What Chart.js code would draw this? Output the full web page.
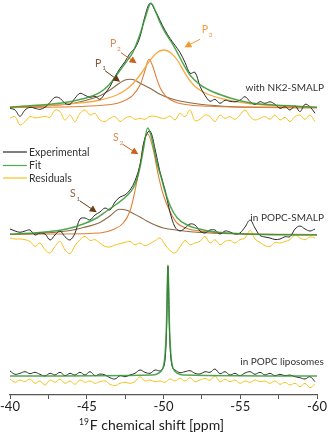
<!DOCTYPE html>
<html>
<head>
<meta charset="utf-8">
<script src="https://cdn.jsdelivr.net/npm/chart.js@4.4.1/dist/chart.umd.min.js"></script>
<style>
html,body{margin:0;padding:0;background:#fff;}
canvas{display:block;}
</style>
</head>
<body>
<canvas id="c" width="328" height="435"></canvas>
<script>
// ---------- DATA (chemical shift in ppm, intensities in arbitrary units) ----------
const ppmGrid = [-40.00,-40.33,-40.65,-40.98,-41.30,-41.63,-41.95,-42.28,-42.61,-42.93,-43.26,-43.58,-43.91,-44.23,-44.56,-44.89,-45.21,-45.54,-45.86,-46.19,-46.51,-46.84,-47.17,-47.49,-47.82,-48.14,-48.47,-48.79,-49.12,-49.45,-49.77,-50.10,-50.42,-50.75,-51.07,-51.40,-51.73,-52.05,-52.38,-52.70,-53.03,-53.35,-53.68,-54.01,-54.33,-54.66,-54.98,-55.31,-55.64,-55.96,-56.29,-56.61,-56.94,-57.26,-57.59,-57.92,-58.24,-58.57,-58.89,-59.22,-59.54,-59.87];

// with NK2-SMALP
const nk2Exp = [0,-1.7,-8,-1.7,1,0,-1,1,6,11,10,5,4,10,15,13,11,12,9,15,21.6,31.6,40,46.6,55,60,71.6,92,105,98,88,78,70,63,56,46,35,36,22,13,7,9,5,8,7,6.5,8,11.6,6.6,4,6.6,5,6.5,4,0,1.6,-1.7,2.3,-3.3,4,1.6,-5];
const nk2Res = [-1,0.7,-7.7,-4.3,0.7,-0.5,0,1,0,7.3,5.7,-2.7,2.3,-4.3,4,7.3,2.3,4,-2.7,-4.3,-1,0.7,-4.3,-1,0.7,-2,-1,-2,1,1,-0.5,-1,1.3,-2.7,4,0.7,7.3,-3.3,-2,2.3,0.7,-4.3,2.3,-1,0.7,-2,2.3,7.3,0.7,-2.7,-1,0.7,-2,2.3,-2.7,0,-4.3,0.7,2.3,-2,2.3,-4.3];
const nk2FitX = [-40,-41.3,-42.6,-43.9,-44.75,-45.4,-45.86,-46.3,-46.7,-47.17,-47.6,-48.0,-48.47,-48.8,-49.19,-49.5,-49.77,-50.03,-50.68,-51.34,-51.79,-52.44,-53.29,-54.4,-55.44,-56.55,-58.7,-60];
const nk2Fit  = [1,2.5,4,6.5,9.5,12.5,16,21,28,38,47,56,74,90,105,96,86,78,62,43,32,23,16,10,6,4,2,1];
const nk2P1X = [-40,-41.52,-43.69,-44.78,-45.86,-46.51,-47.17,-47.5,-47.82,-48.15,-48.47,-49.12,-49.77,-50.42,-51.07,-52.38,-54.53,-57,-60];
const nk2P1  = [0.7,1.6,4,7.3,12.6,18.3,25.6,28.3,29,28,25,20,14,10,7.3,4,1.6,0.9,0.6];
const nk2P2X = [-40,-44,-46,-47,-47.5,-48,-48.5,-48.8,-49.05,-49.3,-49.55,-49.8,-50.1,-50.4,-51,-52,-53,-55,-60];
const nk2P2  = [0.8,1.5,3,5,8,13,24,38,49,42,30,20,13,9,5,2.8,2,1.2,0.5];
const nk2P3X = [-40,-42.61,-44.78,-45.86,-46.95,-47.6,-48.03,-48.47,-49.06,-49.56,-50.03,-50.47,-50.9,-51.34,-51.77,-52.2,-52.85,-53.73,-55.46,-57.64,-60];
const nk2P3  = [1.3,3,5.6,8.3,13.3,19,25,33.3,46.6,55.6,58.3,55.6,48.3,36.6,26.6,20,14.3,10,5,2.3,1];

// in POPC-SMALP
const smaExp = [6,4,2.7,4,5,0,2,1,-5,0,4,-1.7,-5,1.7,16,17,15,20,23,27,25,33,38,40,45,54,70,97,104,86,63,45,23,8,4,7,11,10,4,2,5,5,1,4,3,1,2,8,15,7,-0.5,-2,-3,-4.5,-4,-1.7,-1.7,6,9,6,4,6];
const smaRes = [3.7,2.7,2.7,2,0.3,-4.7,-1.3,-8,-11.3,-4.7,0.3,-8,-12,-4,2,5.3,1.3,2,-1.3,-4.7,-5.3,-3.3,-2,-0.7,0.3,-3,-1.3,-4,-2,1,3.7,-3,-8.7,-11.3,-5.3,1.3,-3,-1.3,0.3,5.3,-1.3,2,-3,0.3,1.3,-1.3,2,3.7,11.3,2.7,-0.7,-4,-4.7,-0.7,-1.3,0.3,2,7,3.7,2,4.7,3.7];
const smaFitX = [-40,-41.52,-42.61,-43.69,-44.78,-45.65,-46.3,-46.95,-47.6,-48.03,-48.25,-48.47,-48.68,-48.97,-49.23,-49.56,-49.88,-50.03,-50.47,-50.9,-51.55,-52.2,-53.29,-54.38,-56.55,-60];
const smaFit  = [1,2,3.5,6,11,17,24,31,39,47,55,68,85,107,97,73,56,47,28,17,10,6.5,3.3,1.7,0.5,0];
const smaS1X = [-40,-41.52,-43.69,-44.78,-45.86,-46.51,-47.12,-47.56,-48.03,-48.47,-48.91,-49.45,-49.99,-51.07,-52.4,-54.5,-60];
const smaS1  = [0.5,1.5,4,7.5,12.5,19,25.7,25,21.5,18,14,10,7,4.5,2.5,1.2,0.3];
const smaS2X = [-40,-43,-45.86,-46.73,-47.38,-47.82,-48.14,-48.47,-48.68,-48.97,-49.34,-49.66,-49.99,-50.47,-50.88,-51.53,-52.64,-54.40,-60];
const smaS2  = [0.5,1,2,5.5,12,24,44,70,90,101,85,60,40,22,12,6.5,3.5,1.5,0.5];

// in POPC liposomes
const lipoExpX = [-40.00,-40.33,-40.65,-40.98,-41.30,-41.63,-41.95,-42.28,-42.61,-42.93,-43.26,-43.58,-43.91,-44.23,-44.56,-44.89,-45.21,-45.54,-45.86,-46.19,-46.51,-46.84,-47.17,-47.49,-47.82,-48.14,-48.47,-48.79,-49.12,-49.45,-49.77,-49.93,-50.03,-50.10,-50.16,-50.21,-50.25,-50.29,-50.33,-50.37,-50.42,-50.48,-50.56,-50.65,-50.75,-51.07,-51.40,-51.73,-52.05,-52.38,-52.70,-53.03,-53.35,-53.68,-54.01,-54.33,-54.66,-54.98,-55.31,-55.64,-55.96,-56.29,-56.61,-56.94,-57.26,-57.59,-57.92,-58.24,-58.57,-58.89,-59.22,-59.54,-59.87];
const lipoExp  = [5,1.7,2.7,4.3,2.3,3.7,1.7,0,2.7,1,3.7,0.3,2.7,1,3.7,1,4.3,0.3,2,1,-1.7,-3,0.3,-0.7,1,2.7,6,3.7,2.7,6,5,
                  7,10,16,30,52,85,110,88,55,32,18,10,7,
                  6,3.3,4.3,5.3,2.7,2,4.3,3.7,7,2.3,4.3,1,2.7,0.3,3,4.3,1.7,3.7,1,2.7,0.3,1.7,0.3,1,-0.7,-1.7,-3,-0.7,-5.7];
const lipoRes = [1,-2.3,0,-1.7,1,-3.3,-1,-5,0,-2.3,1,-3.3,-1,-4.3,0,-2.3,-1,-3.3,-1.7,-1,-4.3,-5.7,-3.3,-2.3,-3.3,-1.7,3.3,-1,0,-1.7,-1,-2.3,1,-1,1.7,-1,2.3,-1.7,0,1.7,-0.3,4.3,-1.7,0.7,-1.7,0,-3.3,-1,-2.3,0,-1.7,-1,-3.3,-1,-4.3,-2.3,-5,-3.3,-6.7,-3.3,-7.7,-4.3];
const lipoFitX = [-40,-49.3,-49.7,-49.9,-50.0,-50.08,-50.15,-50.2,-50.245,-50.29,-50.335,-50.38,-50.43,-50.5,-50.58,-50.68,-50.88,-51.3,-60];
const lipoFit  = [0,1,3,6,10,18,34,55,90,111,90,55,34,18,10,6,3,1,0];

const tickValues = [-40,-42.5,-45,-47.5,-50,-52.5,-55,-57.5,-60];
const panelLabels = ['with NK2-SMALP','in POPC-SMALP','in POPC liposomes'];
const legendLabels = ['Experimental','Fit','Residuals'];

// ---------- LAYOUT (stack offsets, annotation anchors in data units) ----------
const specOffset = [286.7, 160, 19];
const resOffset  = [277.7, 153.3, 15];
const panelLabelAnchor = {x:-60.45, y:[307,177,33]};
const legendAnchor = {x0:-39.54, x1:-41.1, xt:-41.24, y:[243,229.5,217]};
const peakMarks = [
  {t:'P',s:'1',tc:'#7d5b3d',ac:'#6a3b12',at:[-45.54,331.5],from:[-46.19,324.3],to:[-47.17,313.3]},
  {t:'P',s:'2',tc:'#de8a4c',ac:'#c8621c',at:[-46.51,351],from:[-47.23,342.3],to:[-48.25,331.7]},
  {t:'P',s:'3',tc:'#f39c36',ac:'#f39a2c',at:[-52.49,365],from:[-52.38,355.7],to:[-51.36,347.7]},
  {t:'S',s:'1',tc:'#8a6647',ac:'#6a3b12',at:[-43.91,201],from:[-44.56,194],to:[-45.65,182.7]},
  {t:'S',s:'2',tc:'#de8a4c',ac:'#c8621c',at:[-46.71,257],from:[-47.34,250.7],to:[-48.36,240.7]}
];

// ---------- STYLES ----------
const C = {exp:'#2a2a2a', fit:'rgba(52,150,52,0.85)', res:'#f6c11c', c1:'#8c6a48', c2:'#e07f38', c3:'#fba740'};
const FONT = 'Lato, "Open Sans", sans-serif';

function pts(xs, ys, off){ return xs.map((v,i)=>({x:v, y:ys[i]+off})); }
function ds(label, data, color, width, smooth){
  return {label, data, borderColor:color, borderWidth:width, pointRadius:0, fill:false,
    tension: smooth ? 0 : 0.35, cubicInterpolationMode: smooth ? 'monotone' : 'default'};
}

const datasets = [
  ds('Fit NK2', pts(nk2FitX, nk2Fit, specOffset[0]), C.fit, 1.5, true),
  ds('Fit SMA', pts(smaFitX, smaFit, specOffset[1]), C.fit, 1.5, true),
  ds('Fit lipo', pts(lipoFitX, lipoFit, specOffset[2]), C.fit, 1.5, true),
  ds('Exp NK2', pts(ppmGrid, nk2Exp, specOffset[0]), C.exp, 1, false),
  ds('Exp SMA', pts(ppmGrid, smaExp, specOffset[1]), C.exp, 1, false),
  ds('Exp lipo', pts(lipoExpX, lipoExp, specOffset[2]), C.exp, 1, false),
  ds('P3', pts(nk2P3X, nk2P3, specOffset[0]), C.c3, 1.3, true),
  ds('P2', pts(nk2P2X, nk2P2, specOffset[0]), C.c2, 1.1, true),
  ds('P1', pts(nk2P1X, nk2P1, specOffset[0]), C.c1, 1.1, true),
  ds('S2', pts(smaS2X, smaS2, specOffset[1]), C.c2, 1.1, true),
  ds('S1', pts(smaS1X, smaS1, specOffset[1]), C.c1, 1.1, true),
  ds('Res NK2', pts(ppmGrid, nk2Res, resOffset[0]), C.res, 1, false),
  ds('Res SMA', pts(ppmGrid, smaRes, resOffset[1]), C.res, 1, false),
  ds('Res lipo', pts(ppmGrid, lipoRes, resOffset[2]), C.res, 1, false)
];

function arrow(ctx, x0, y0, x1, y1, color){
  const dx = x1-x0, dy = y1-y0, L = Math.hypot(dx,dy), ux = dx/L, uy = dy/L;
  const hl = 7, hw = 3.6;
  ctx.strokeStyle = color; ctx.fillStyle = color; ctx.lineWidth = 1;
  ctx.beginPath(); ctx.moveTo(x0,y0); ctx.lineTo(x1-ux*hl*0.8, y1-uy*hl*0.8); ctx.stroke();
  ctx.beginPath();
  ctx.moveTo(x1,y1);
  ctx.lineTo(x1-ux*hl - uy*hw, y1-uy*hl + ux*hw);
  ctx.lineTo(x1-ux*hl + uy*hw, y1-uy*hl - ux*hw);
  ctx.closePath(); ctx.fill();
}

const annotations = {
  id:'annotations',
  afterDraw(chart){
    const {ctx, scales:{x, y}, chartArea} = chart;
    ctx.save();
    // panel labels
    ctx.font = '10px ' + FONT; ctx.fillStyle = '#333'; ctx.textAlign = 'right'; ctx.textBaseline = 'middle';
    panelLabels.forEach((t,i)=> ctx.fillText(t, x.getPixelForValue(panelLabelAnchor.x), y.getPixelForValue(panelLabelAnchor.y[i])));
    // legend
    const lc = [C.exp, '#4fa84f', C.res];
    ctx.textAlign = 'left'; ctx.font = '10.5px ' + FONT;
    legendLabels.forEach((t,i)=>{
      const yy = y.getPixelForValue(legendAnchor.y[i]);
      ctx.strokeStyle = lc[i]; ctx.lineWidth = 1.2;
      ctx.beginPath(); ctx.moveTo(x.getPixelForValue(legendAnchor.x0), yy); ctx.lineTo(x.getPixelForValue(legendAnchor.x1), yy); ctx.stroke();
      ctx.fillStyle = '#333';
      ctx.fillText(t, x.getPixelForValue(legendAnchor.xt), yy + 0.5);
    });
    // peak labels with arrows
    peakMarks.forEach(m=>{
      const px = x.getPixelForValue(m.at[0]), py = y.getPixelForValue(m.at[1]);
      ctx.fillStyle = m.tc; ctx.textAlign = 'left'; ctx.textBaseline = 'middle';
      ctx.font = '10.5px ' + FONT;
      ctx.fillText(m.t, px, py);
      const w = ctx.measureText(m.t).width;
      ctx.font = '6.5px ' + FONT;
      ctx.fillText(m.s, px + w + 0.8, py + 4.5);
      arrow(ctx, x.getPixelForValue(m.from[0]), y.getPixelForValue(m.from[1]),
                 x.getPixelForValue(m.to[0]), y.getPixelForValue(m.to[1]), m.ac);
    });
    // axis title with superscript
    const main = 'F chemical shift [ppm]', sup = '19';
    ctx.fillStyle = '#222'; ctx.textBaseline = 'alphabetic';
    ctx.font = '14px ' + FONT; const wm = ctx.measureText(main).width;
    ctx.font = '8.5px ' + FONT; const ws = ctx.measureText(sup).width;
    const cx = x.getPixelForValue(-49.22), ty = chartArea.bottom + 35;
    const start = cx - (wm + ws + 1)/2;
    ctx.fillText(sup, start, ty - 5.5);
    ctx.font = '14px ' + FONT; ctx.fillText(main, start + ws + 1, ty);
    ctx.restore();
  }
};

new Chart(document.getElementById('c'), {
  type:'line',
  data:{datasets},
  options:{
    responsive:false, animation:false, devicePixelRatio:1,
    layout:{padding:{left:10, right:11, top:0, bottom:0}},
    plugins:{legend:{display:false}, tooltip:{enabled:false}},
    scales:{
      x:{type:'linear', reverse:true, min:-60, max:-40,
        afterBuildTicks:(s)=>{ s.ticks = tickValues.map(v=>({value:v})); },
        afterFit:(s)=>{ s.height = 40; },
        ticks:{autoSkip:false, maxRotation:0, padding:0, color:'#222', font:{family:FONT, size:13},
          callback:(v)=> (v % 5 === 0 ? String(v) : '')},
        grid:{drawOnChartArea:false, drawTicks:true, tickLength:4, color:'#555'},
        border:{display:true, color:'#555', width:1.2}
      },
      y:{display:false, min:0, max:395}
    }
  },
  plugins:[annotations]
});
</script>
</body>
</html>
